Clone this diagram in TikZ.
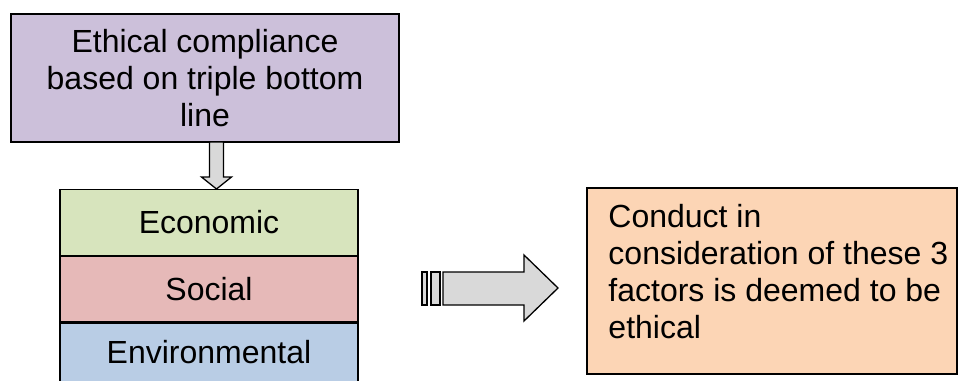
\documentclass[tikz,border=0pt]{standalone}
\usepackage{fontspec}
\setmainfont{Liberation Sans}
\definecolor{boxpurple}{HTML}{CCC0DA}
\definecolor{boxgreen}{HTML}{D7E4BD}
\definecolor{boxred}{HTML}{E6B9B8}
\definecolor{boxblue}{HTML}{B9CDE5}
\definecolor{boxorange}{HTML}{FCD5B5}
\definecolor{arrowgray}{HTML}{D9D9D9}
\begin{document}
\begin{tikzpicture}[x=1pt,y=-1pt,
  every node/.style={font=\fontsize{32}{37}\selectfont},
  plainbox/.style={draw=black,line width=1.5pt,rectangle,inner sep=0pt,align=center},
  blockarrow/.style={draw=black,line width=1.3pt,fill=arrowgray,line join=miter}]
\useasboundingbox (0,0) rectangle (960,380);
\begin{scope}
\clip (0,0) rectangle (960,380);
% top box
\node[plainbox,fill=boxpurple,minimum width=388pt,minimum height=128pt] (top) at (205,78)
  {Ethical compliance\\based on triple bottom\\line};
% stack
\node[plainbox,fill=boxgreen,minimum width=298pt,minimum height=66pt] (eco) at (209,222.5) {Economic};
\node[plainbox,fill=boxred,minimum width=298pt,minimum height=66pt] (soc) at (209,289) {Social};
\node[plainbox,fill=boxblue,minimum width=298pt,minimum height=70pt,anchor=north] (env) at (209,322) {};
\node at (209,352) {Environmental};
% right box
\node[plainbox,fill=boxorange,minimum width=370pt,minimum height=186pt] (res) at (772,281) {};
\node[anchor=north west,inner sep=0pt,align=left] (restext) at ([xshift=22pt,yshift=-17pt]res.north west)
  {Conduct in\\consideration of these 3\\factors is deemed to be\\ethical};
% down arrow
\coordinate (dtop) at (216.5,142);
\coordinate (dtip) at (216.5,189);
\draw[blockarrow] ([xshift=-7pt]dtop) -- ([xshift=-7pt,yshift=12pt]dtip) -- ([xshift=-15pt,yshift=12pt]dtip)
  -- (dtip) -- ([xshift=15pt,yshift=12pt]dtip) -- ([xshift=7pt,yshift=12pt]dtip) -- ([xshift=7pt]dtop) -- cycle;
% right arrow
\draw[blockarrow] (422,272) rectangle (427,305);
\draw[blockarrow] (431,272) rectangle (440,305);
\draw[blockarrow] (443,272) -- (524,272) -- (524,255) -- (558,288) -- (524,321) -- (524,305) -- (443,305) -- cycle;
\end{scope}
\end{tikzpicture}
\end{document}
